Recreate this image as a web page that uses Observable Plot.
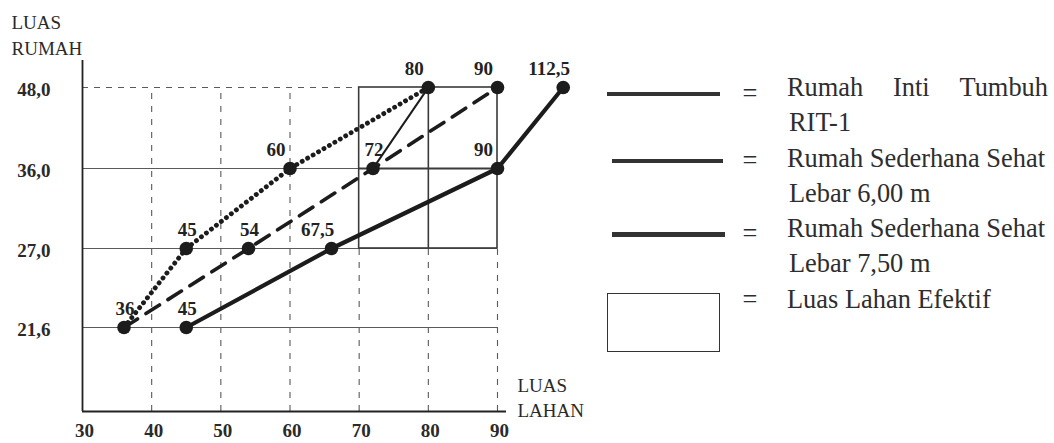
<!DOCTYPE html>
<html>
<head>
<meta charset="utf-8">
<script src="https://cdn.jsdelivr.net/npm/d3@7"></script>
<script src="https://cdn.jsdelivr.net/npm/@observablehq/plot@0.6"></script>
<style>
  html, body { margin: 0; padding: 0; background: #fff; }
  #wrap { position: relative; width: 1054px; height: 443px; overflow: hidden; background: #fff; }
  #chart { position: absolute; left: 0; top: 0; }
  #chart svg, #chart svg text { font-family: "Liberation Serif", "Times New Roman", serif !important; }
  .lg { position: absolute; font-family: "Liberation Serif", "Times New Roman", serif; font-size: 26.4px; color: #2e2e2e; }
  .swatch { position: absolute; background: #333; }
  .box { position: absolute; border: 1.6px solid #333; box-sizing: border-box; }
  .eq { position: absolute; width: 30px; text-align: center; line-height: 30px; }
  #ltext { left: 787px; top: 70px; width: 261px; }
  #ltext div { height: 35.3px; line-height: 35.3px; white-space: nowrap; }
  .just { display: flex; justify-content: space-between; }
  .ind { padding-left: 2px; }
</style>
</head>
<body>
<div id="wrap">
  <div id="chart"></div>
</div>
<script>
// ---- data ----
const xTicks = [30, 40, 50, 60, 70, 80, 90];
const yTicks = [21.6, 27.0, 36.0, 48.0];
const yTickLabels = ["21,6", "27,0", "36,0", "48,0"];
const yAxisMin = 16.2;   // value at the horizontal axis
const yAxisMax = 52;     // top end of vertical axis
const xAxisMax = 91.3;   // right end of horizontal axis

const luasRumah = [21.6, 27.0, 36.0, 48.0];
// Rumah Inti Tumbuh RIT-1 (dotted)
const rit1Lahan = [36, 45, 60, 80];
const rit1Labels = ["36", "45", "60", "80"];
// Rumah Sederhana Sehat lebar 6,00 m (dashed)
const rss600Lahan = [36, 54, 72, 90];
const rss600Labels = ["36", "54", "72", "90"];
// Rumah Sederhana Sehat lebar 7,50 m (solid); 112,5 is drawn at the chart edge
const rss750Lahan = [45, 66, 90, 99.5];
const rss750Labels = ["45", "67,5", "90", "112,5"];
// thin connector RIT-1 80 -> 72
const linkFrom = {lahan: 80, rumah: 48};
const linkTo = {lahan: 72, rumah: 36};
// Luas Lahan Efektif box
const efektifLahan = [70, 80, 90];
const efektifRumah = [27, 36, 48];

// ---- build tables ----
const mk = (xs, labels, s) => xs.map((x, i) => ({x, y: luasRumah[i], label: labels[i], s}));
const rit1 = mk(rit1Lahan, rit1Labels, "rit1");
const rss600 = mk(rss600Lahan, rss600Labels, "rss600");
const rss750 = mk(rss750Lahan, rss750Labels, "rss750");
// unique points (36 shared)
const pts = [...rit1, ...rss600.slice(1), ...rss750];
// layout: labels placed to the upper-left of their marker
const leftLabelKeys = new Set(["rit1:60", "rit1:80", "rss600:90", "rss750:67,5", "rss750:90", "rss750:112,5"]);
const isLeft = d => leftLabelKeys.has(d.s + ":" + d.label);

const ink = "#1c1c1c";
const grid = "#5a5a5a";
const serif = "'Liberation Serif', 'Times New Roman', serif";

const chart = Plot.plot({
  width: 600,
  height: 443,
  margin: 0,
  x: {axis: null, domain: [30, 90], range: [82, 497]},
  y: {axis: null, type: "linear", domain: [yAxisMin, ...yTicks, yAxisMax], range: [411, 327, 248, 168, 87, 60]},
  style: {background: "#fff", fontFamily: serif},
  marks: [
    // horizontal grid
    Plot.ruleY(yTicks.slice(0, 3), {x1: 30, x2: 90, stroke: grid, strokeWidth: 1.2}),
    Plot.ruleY([yTicks[3]], {x1: 30, x2: efektifLahan[0], stroke: grid, strokeWidth: 1.2, strokeDasharray: "6,6"}),
    // vertical grid (dashed)
    Plot.ruleX(xTicks.slice(1, 4), {y1: yAxisMin, y2: 48, stroke: grid, strokeWidth: 1.1, strokeDasharray: "6,7"}),
    Plot.ruleX(efektifLahan, {y1: yAxisMin, y2: efektifRumah[0], stroke: grid, strokeWidth: 1.1, strokeDasharray: "6,7"}),
    // Luas Lahan Efektif box
    Plot.rect([0], {x1: efektifLahan[0], x2: efektifLahan[2], y1: efektifRumah[0], y2: efektifRumah[2], fill: "none", stroke: "#3a3a3a", strokeWidth: 1.6}),
    Plot.ruleX([efektifLahan[1]], {y1: efektifRumah[0], y2: efektifRumah[2], stroke: "#3a3a3a", strokeWidth: 1.6}),
    Plot.ruleY([efektifRumah[1]], {x1: efektifLahan[0], x2: efektifLahan[2], stroke: "#3a3a3a", strokeWidth: 1.8}),
    // axes
    Plot.ruleX([30], {y1: yAxisMin, y2: yAxisMax, stroke: "#222", strokeWidth: 1.8}),
    Plot.ruleY([yAxisMin], {x1: 30, x2: xAxisMax, stroke: "#222", strokeWidth: 1.8}),
    // series
    Plot.line(rss750, {x: "x", y: "y", stroke: ink, strokeWidth: 4.2}),
    Plot.line(rss600, {x: "x", y: "y", stroke: ink, strokeWidth: 3.6, strokeDasharray: "16,10"}),
    Plot.line(rit1, {x: "x", y: "y", stroke: ink, strokeWidth: 4.8, strokeDasharray: "0.1,6.2", strokeLinecap: "round"}),
    Plot.link([0], {x1: linkFrom.lahan, y1: linkFrom.rumah, x2: linkTo.lahan, y2: linkTo.rumah, stroke: ink, strokeWidth: 2.2}),
    Plot.dot(pts, {x: "x", y: "y", r: 6.8, fill: ink, stroke: "none"}),
    // point labels
    Plot.text(pts.filter(isLeft), {x: "x", y: "y", text: "label", dx: -14, dy: -19, fontSize: 19, fontWeight: "bold", fill: "#222", fontFamily: serif}),
    Plot.text(pts.filter(d => !isLeft(d)), {x: "x", y: "y", text: "label", dx: 1, dy: -19, fontSize: 19, fontWeight: "bold", fill: "#222", fontFamily: serif}),
    // tick labels
    Plot.text(xTicks, {x: d => d, y: yAxisMin, text: d => String(d), dx: 2, dy: 19, fontSize: 19, fontWeight: "bold", fill: "#2a2a2a", fontFamily: serif}),
    Plot.text(yTicks, {x: 30, y: d => d, text: (d, i) => yTickLabels[i], dx: -32, dy: 2, textAnchor: "end", fontSize: 19, fontWeight: "bold", fill: "#2a2a2a", fontFamily: serif}),
    // axis titles
    Plot.text(["LUAS\nRUMAH"], {x: 30, y: yAxisMax, text: d => d, textAnchor: "start", dx: -71, dy: -27, lineHeight: 1.37, fontSize: 19, fill: "#2a2a2a", fontFamily: serif}),
    Plot.text(["LUAS\nLAHAN"], {x: 90, y: yAxisMin, text: d => d, textAnchor: "start", dx: 20, dy: -15, lineHeight: 1.33, fontSize: 19, fill: "#2a2a2a", fontFamily: serif})
  ]
});
document.getElementById("chart").appendChild(chart);

// ---- legend ----
const legendItems = [
  {lines: ["Rumah Inti Tumbuh", "RIT-1"], kind: "line"},
  {lines: ["Rumah Sederhana Sehat", "Lebar 6,00 m"], kind: "line"},
  {lines: ["Rumah Sederhana Sehat", "Lebar 7,50 m"], kind: "line"},
  {lines: ["Luas Lahan Efektif"], kind: "box"}
];
const wrap = document.getElementById("wrap");
const swatchGeom = [[607, 92, 113, 4], [612, 159, 111, 4], [612, 232, 113, 4.5], [607, 293, 113, 59]];
const eqY = [94, 161, 234, 300];
legendItems.forEach((it, i) => {
  const g = swatchGeom[i];
  const s = document.createElement("div");
  s.className = it.kind === "box" ? "box" : "swatch";
  Object.assign(s.style, {left: g[0] + "px", top: g[1] + "px", width: g[2] + "px", height: g[3] + "px"});
  wrap.appendChild(s);
  const e = document.createElement("div");
  e.className = "lg eq";
  e.textContent = "=";
  Object.assign(e.style, {left: "735px", top: (eqY[i] - 16) + "px"});
  wrap.appendChild(e);
});
const lt = document.createElement("div");
lt.className = "lg";
lt.id = "ltext";
legendItems.forEach((it, i) => {
  it.lines.forEach((line, j) => {
    const d = document.createElement("div");
    if (i === 0 && j === 0) {
      d.className = "just";
      line.split(" ").forEach(w => { const sp = document.createElement("span"); sp.textContent = w; d.appendChild(sp); });
    } else {
      d.textContent = line;
      if (j > 0) d.className = "ind";
    }
    lt.appendChild(d);
  });
});
wrap.appendChild(lt);
</script>
</body>
</html>
